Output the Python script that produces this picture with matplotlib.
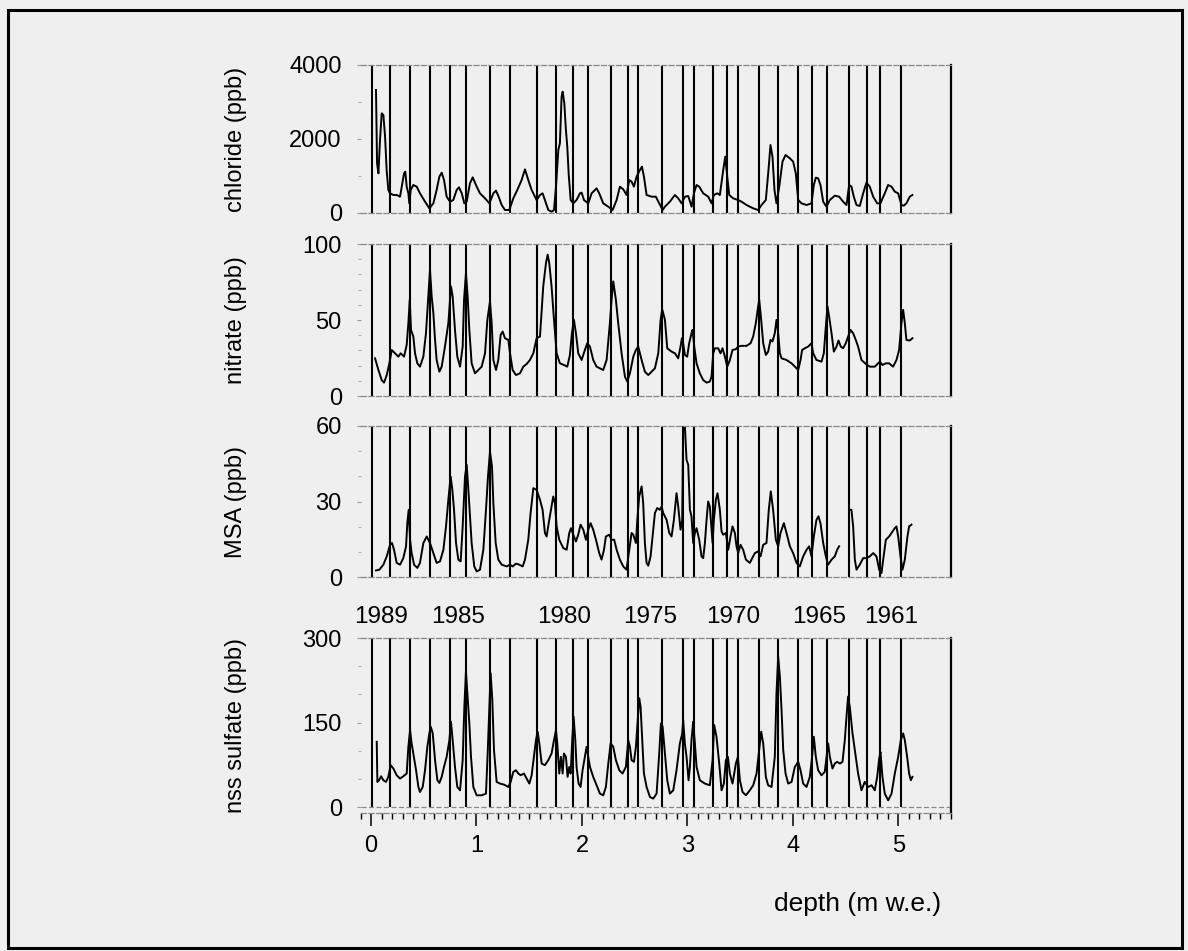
import matplotlib
matplotlib.use('Agg')
import numpy as np
import matplotlib.pyplot as plt
import matplotlib.transforms as mtransforms
from matplotlib.patches import Rectangle
from matplotlib.ticker import MultipleLocator

plt.rcParams['font.family'] = ['Liberation Sans', 'DejaVu Sans']

# profundidade (m w.e.) e concentracoes (ppb)
cl_depth = [0.047, 0.057, 0.070, 0.085, 0.101, 0.117, 0.133, 0.148, 0.164, 0.180,
            0.212, 0.243, 0.275, 0.291, 0.313, 0.325, 0.338, 0.354, 0.363, 0.376,
            0.401, 0.433, 0.464, 0.512, 0.553, 0.591, 0.622, 0.648, 0.670, 0.692,
            0.717, 0.749, 0.780, 0.812, 0.834, 0.860, 0.885, 0.907, 0.938, 0.964,
            1.002, 1.033, 1.081, 1.122, 1.160, 1.185, 1.210, 1.239, 1.270, 1.311,
            1.349, 1.387, 1.428, 1.460, 1.491, 1.523, 1.570, 1.602, 1.627, 1.649,
            1.681, 1.712, 1.735, 1.754, 1.776, 1.791, 1.807, 1.817, 1.833, 1.848,
            1.861, 1.874, 1.893, 1.918, 1.949, 1.981, 1.997, 2.019, 2.060, 2.092,
            2.139, 2.164, 2.202, 2.250, 2.291, 2.329, 2.360, 2.392, 2.423, 2.449,
            2.471, 2.493, 2.518, 2.550, 2.569, 2.588, 2.613, 2.660, 2.701, 2.733,
            2.765, 2.787, 2.834, 2.882, 2.913, 2.945, 2.977, 3.008, 3.040, 3.062,
            3.087, 3.112, 3.150, 3.198, 3.229, 3.251, 3.283, 3.308, 3.340, 3.359,
            3.378, 3.397, 3.434, 3.482, 3.513, 3.561, 3.624, 3.671, 3.703, 3.744,
            3.769, 3.788, 3.807, 3.826, 3.845, 3.871, 3.902, 3.931, 3.972, 4.003,
            4.028, 4.051, 4.082, 4.130, 4.177, 4.199, 4.218, 4.240, 4.262, 4.288,
            4.319, 4.351, 4.398, 4.439, 4.477, 4.509, 4.534, 4.556, 4.578, 4.604,
            4.635, 4.667, 4.698, 4.730, 4.762, 4.800, 4.831, 4.872, 4.904, 4.936,
            4.967, 4.999, 5.030, 5.052, 5.077, 5.109, 5.134]
cl_ppb = [3325, 1342, 1072, 1973, 2694, 2649, 2063, 1162, 622, 532,
          487, 487, 441, 712, 1072, 1117, 712, 532, 261, 622,
          757, 712, 532, 306, 126, 261, 622, 982, 1090, 892,
          441, 306, 351, 622, 694, 532, 261, 306, 802, 964,
          712, 532, 396, 261, 532, 604, 441, 216, 81, 81,
          396, 622, 892, 1180, 892, 622, 351, 487, 532, 351,
          81, 36, 81, 712, 1703, 1883, 3144, 3280, 2964, 2243,
          1793, 1072, 351, 261, 351, 532, 550, 351, 261, 532,
          667, 532, 261, 171, 81, 351, 712, 640, 487, 892,
          847, 712, 982, 1162, 1252, 982, 487, 441, 441, 261,
          81, 171, 306, 487, 396, 261, 441, 459, 171, 532,
          757, 712, 532, 441, 261, 487, 532, 487, 1162, 1523,
          982, 487, 396, 351, 306, 216, 126, 81, 216, 351,
          1162, 1838, 1523, 622, 261, 712, 1388, 1568, 1478, 1388,
          1072, 351, 261, 216, 261, 757, 955, 937, 757, 306,
          171, 351, 469, 441, 306, 216, 757, 712, 441, 216,
          189, 532, 820, 712, 441, 261, 261, 532, 757, 712,
          577, 532, 216, 198, 261, 441, 487]

no3_depth = [0.038, 0.070, 0.101, 0.123, 0.149, 0.174, 0.196, 0.227, 0.259, 0.281,
             0.313, 0.338, 0.354, 0.367, 0.379, 0.401, 0.417, 0.439, 0.464, 0.496,
             0.521, 0.543, 0.559, 0.575, 0.591, 0.607, 0.622, 0.648, 0.670, 0.701,
             0.733, 0.758, 0.774, 0.796, 0.818, 0.844, 0.869, 0.882, 0.900, 0.916,
             0.932, 0.954, 0.986, 1.017, 1.049, 1.081, 1.103, 1.128, 1.144, 1.160,
             1.185, 1.207, 1.229, 1.248, 1.270, 1.302, 1.318, 1.343, 1.374, 1.412,
             1.444, 1.476, 1.507, 1.539, 1.570, 1.602, 1.633, 1.659, 1.675, 1.690,
             1.712, 1.735, 1.760, 1.791, 1.829, 1.861, 1.886, 1.905, 1.924, 1.943,
             1.965, 1.997, 2.028, 2.051, 2.076, 2.107, 2.139, 2.171, 2.202, 2.234,
             2.265, 2.281, 2.297, 2.322, 2.344, 2.376, 2.408, 2.430, 2.455, 2.487,
             2.512, 2.534, 2.566, 2.597, 2.629, 2.660, 2.692, 2.724, 2.746, 2.761,
             2.787, 2.809, 2.850, 2.882, 2.913, 2.935, 2.948, 2.960, 2.976, 2.998,
             3.017, 3.039, 3.049, 3.065, 3.087, 3.118, 3.150, 3.182, 3.213, 3.229,
             3.245, 3.261, 3.292, 3.314, 3.333, 3.356, 3.378, 3.403, 3.428, 3.460,
             3.482, 3.513, 3.561, 3.599, 3.624, 3.649, 3.671, 3.681, 3.697, 3.719,
             3.744, 3.766, 3.788, 3.807, 3.829, 3.845, 3.861, 3.877, 3.893, 3.940,
             3.988, 4.019, 4.051, 4.073, 4.088, 4.114, 4.145, 4.177, 4.193, 4.224,
             4.272, 4.294, 4.313, 4.329, 4.344, 4.367, 4.389, 4.414, 4.433, 4.455,
             4.477, 4.502, 4.524, 4.547, 4.572, 4.597, 4.619, 4.651, 4.692, 4.730,
             4.777, 4.809, 4.825, 4.850, 4.882, 4.913, 4.951, 4.983, 5.008, 5.030,
             5.046, 5.062, 5.077, 5.109, 5.134]
no3_ppb = [24.8, 17.1, 10.5, 8.8, 13.8, 21.5, 30.3, 28.1, 25.9, 28.1,
           25.9, 33.6, 47.9, 63.3, 43.5, 39.1, 28.1, 21.5, 19.3, 25.9,
           41.3, 65.5, 83.1, 65.5, 54.5, 36.9, 23.7, 16.0, 19.3, 32.5,
           47.9, 72.1, 65.5, 43.5, 25.9, 19.3, 32.5, 63.3, 80.9, 65.5,
           43.5, 21.5, 14.9, 17.1, 19.3, 28.1, 50.1, 62.2, 47.9, 23.7,
           17.1, 23.7, 40.2, 42.4, 38.0, 36.9, 28.1, 17.1, 13.8, 14.9,
           19.3, 21.1, 23.7, 28.1, 38.0, 39.1, 72.1, 87.5, 93.0, 87.5,
           72.1, 50.1, 28.1, 21.5, 20.4, 19.3, 27.0, 41.3, 50.1, 41.3,
           28.1, 23.7, 30.3, 34.7, 32.5, 23.7, 19.3, 18.2, 17.1, 23.7,
           47.9, 63.3, 75.4, 63.3, 47.9, 28.1, 12.7, 9.5, 14.9, 25.9,
           30.3, 32.5, 23.7, 16.0, 13.8, 16.0, 18.2, 28.1, 50.1, 57.1,
           50.1, 31.4, 29.2, 28.1, 24.8, 32.5, 38.0, 34.7, 27.0, 25.9,
           34.7, 41.3, 43.5, 32.5, 21.5, 14.9, 10.5, 8.8, 9.5, 12.7,
           28.1, 31.4, 31.4, 28.1, 31.4, 25.9, 19.3, 23.7, 30.3, 30.8,
           32.5, 33.0, 33.0, 34.7, 39.1, 47.9, 58.9, 63.3, 52.3, 34.7,
           27.0, 29.2, 36.9, 35.8, 41.3, 50.1, 41.3, 28.1, 24.8, 23.7,
           21.5, 19.3, 17.1, 23.7, 30.3, 31.4, 32.5, 34.7, 28.1, 23.7,
           22.6, 28.1, 45.7, 58.9, 52.3, 41.3, 29.2, 32.5, 36.5, 32.5,
           31.4, 34.7, 39.1, 43.5, 41.3, 36.9, 32.5, 23.7, 21.1, 19.3,
           19.3, 21.5, 22.6, 20.4, 21.5, 21.5, 19.3, 23.7, 30.3, 47.9,
           56.7, 47.9, 36.9, 36.5, 38.0]

msa_depth = [0.047, 0.079, 0.117, 0.149, 0.180, 0.199, 0.218, 0.243, 0.275, 0.306,
             0.332, 0.344, 0.357, 0.370, 0.385, 0.408, 0.439, 0.464, 0.496, 0.528,
             0.559, 0.591, 0.622, 0.654, 0.686, 0.711, 0.733, 0.755, 0.771, 0.787,
             0.806, 0.828, 0.850, 0.869, 0.891, 0.907, 0.923, 0.938, 0.954, 0.979,
             1.002, 1.033, 1.065, 1.090, 1.109, 1.128, 1.147, 1.160, 1.182, 1.207,
             1.239, 1.286, 1.318, 1.343, 1.374, 1.406, 1.438, 1.460, 1.491, 1.513,
             1.539, 1.570, 1.602, 1.627, 1.649, 1.665, 1.690, 1.712, 1.728, 1.744,
             1.760, 1.785, 1.823, 1.855, 1.880, 1.896, 1.918, 1.943, 1.965, 1.987,
             2.013, 2.038, 2.060, 2.082, 2.107, 2.133, 2.164, 2.186, 2.209, 2.227,
             2.259, 2.281, 2.306, 2.329, 2.360, 2.392, 2.423, 2.449, 2.471, 2.487,
             2.512, 2.525, 2.543, 2.566, 2.581, 2.597, 2.613, 2.629, 2.651, 2.670,
             2.692, 2.714, 2.739, 2.755, 2.771, 2.803, 2.828, 2.850, 2.872, 2.897,
             2.913, 2.935, 2.951, 2.960, 2.976, 2.992, 3.008, 3.024, 3.039, 3.055,
             3.071, 3.087, 3.112, 3.134, 3.150, 3.166, 3.182, 3.197, 3.213, 3.239,
             3.251, 3.270, 3.286, 3.308, 3.324, 3.340, 3.365, 3.387, 3.409, 3.428,
             3.450, 3.466, 3.482, 3.504, 3.529, 3.555, 3.592, 3.640, 3.671, 3.694,
             3.719, 3.750, 3.772, 3.791, 3.813, 3.839, 3.861, 3.883, 3.915, 3.940,
             3.972, 4.003, 4.035, 4.066, 4.098, 4.130, 4.155, 4.177, 4.199, 4.224,
             4.243, 4.262, 4.288, 4.313, 4.335, 4.367, 4.398, 4.420, 4.439, 4.490,
             4.534, 4.556, 4.572, 4.588, 4.604, 4.635, 4.667, 4.698, 4.730, 4.762,
             4.793, 4.819, 4.841, 4.857, 4.882, 4.913, 4.945, 4.967, 4.983, 4.999,
             5.021, 5.040, 5.062, 5.087, 5.103, 5.125]
msa_ppb = [2.6, 2.9, 4.9, 8.2, 12.8, 13.5, 10.8, 5.6, 4.9, 7.5,
           12.2, 21.4, 26.7, 14.8, 9.5, 4.9, 3.6, 5.6, 13.5, 16.1,
           13.5, 9.5, 5.6, 6.2, 10.8, 20.1, 30.7, 39.9, 34.6, 26.7,
           13.5, 6.9, 6.2, 20.1, 39.9, 44.6, 34.6, 24.1, 13.5, 4.2,
           2.2, 2.9, 10.8, 26.7, 39.9, 49.8, 43.9, 29.3, 13.5, 6.9,
           4.9, 4.2, 4.9, 4.2, 5.3, 4.9, 4.2, 6.9, 14.8, 25.4,
           35.3, 34.6, 30.7, 26.7, 17.5, 16.1, 22.7, 28.0, 32.0, 29.3,
           20.1, 14.8, 11.5, 10.8, 17.5, 19.4, 16.8, 14.1, 16.8, 20.8,
           18.8, 14.8, 18.8, 21.4, 18.8, 14.8, 9.5, 6.9, 10.8, 16.1,
           16.8, 14.8, 14.8, 10.8, 6.9, 4.2, 2.9, 10.8, 17.5, 16.8,
           13.5, 22.7, 32.0, 36.0, 29.3, 13.5, 5.6, 4.5, 8.2, 16.1,
           25.4, 27.4, 26.7, 28.0, 25.4, 22.7, 17.5, 16.1, 22.7, 33.3,
           28.0, 18.8, 22.7, 60.0, 60.0, 46.5, 44.6, 26.7, 24.1, 13.5,
           17.5, 19.4, 14.8, 8.2, 7.5, 13.5, 22.7, 30.0, 28.0, 13.5,
           22.7, 30.7, 33.3, 26.7, 18.1, 16.8, 17.5, 10.8, 16.1, 20.1,
           17.5, 12.2, 9.5, 12.8, 10.8, 6.9, 5.6, 9.5, 10.2, 8.2,
           12.8, 13.5, 26.7, 34.0, 26.7, 14.8, 12.2, 17.5, 21.4, 17.5,
           12.2, 9.5, 5.6, 4.2, 8.2, 10.8, 12.2, 8.2, 16.1, 22.7,
           24.1, 21.4, 13.5, 8.2, 4.9, 6.9, 8.2, 10.8, 12.2, np.nan,
           26.7, 26.7, 20.1, 6.9, 2.9, 4.9, 7.5, 7.5, 8.2, 9.5,
           8.2, 2.9, 1.6, 6.9, 14.8, 16.1, 18.1, 19.4, 20.1, 16.1,
           8.2, 2.9, 6.9, 16.1, 20.1, 20.8]

so4_depth = [0.054, 0.060, 0.076, 0.095, 0.117, 0.142, 0.164, 0.186, 0.212, 0.243,
             0.275, 0.306, 0.338, 0.354, 0.370, 0.385, 0.401, 0.427, 0.449, 0.464,
             0.490, 0.512, 0.534, 0.553, 0.566, 0.585, 0.607, 0.629, 0.648, 0.670,
             0.692, 0.717, 0.743, 0.758, 0.774, 0.796, 0.818, 0.844, 0.869, 0.885,
             0.900, 0.916, 0.932, 0.948, 0.970, 1.002, 1.049, 1.090, 1.106, 1.122,
             1.134, 1.150, 1.166, 1.191, 1.223, 1.261, 1.302, 1.324, 1.349, 1.374,
             1.397, 1.419, 1.450, 1.476, 1.501, 1.523, 1.545, 1.564, 1.580, 1.596,
             1.618, 1.649, 1.681, 1.712, 1.735, 1.754, 1.766, 1.785, 1.801, 1.817,
             1.829, 1.848, 1.864, 1.880, 1.893, 1.908, 1.921, 1.937, 1.949, 1.968,
             1.987, 2.006, 2.028, 2.044, 2.060, 2.076, 2.107, 2.139, 2.171, 2.202,
             2.227, 2.250, 2.272, 2.297, 2.322, 2.354, 2.385, 2.417, 2.439, 2.455,
             2.471, 2.493, 2.512, 2.534, 2.543, 2.556, 2.569, 2.588, 2.613, 2.645,
             2.676, 2.708, 2.733, 2.749, 2.765, 2.787, 2.809, 2.834, 2.866, 2.897,
             2.929, 2.951, 2.960, 2.976, 2.992, 3.011, 3.024, 3.039, 3.055, 3.071,
             3.087, 3.118, 3.166, 3.213, 3.239, 3.254, 3.276, 3.302, 3.324, 3.346,
             3.365, 3.384, 3.403, 3.428, 3.460, 3.479, 3.498, 3.523, 3.555, 3.592,
             3.624, 3.656, 3.681, 3.700, 3.719, 3.744, 3.766, 3.798, 3.829, 3.845,
             3.861, 3.877, 3.893, 3.909, 3.931, 3.956, 3.988, 4.019, 4.051, 4.073,
             4.098, 4.130, 4.161, 4.183, 4.199, 4.218, 4.240, 4.272, 4.303, 4.335,
             4.351, 4.376, 4.398, 4.420, 4.446, 4.471, 4.493, 4.509, 4.524, 4.540,
             4.566, 4.588, 4.619, 4.651, 4.682, 4.714, 4.746, 4.777, 4.800, 4.819,
             4.831, 4.850, 4.872, 4.904, 4.936, 4.967, 4.999, 5.024, 5.046, 5.062,
             5.084, 5.103, 5.119, 5.134]
so4_ppb = [115.8, 44.6, 47.5, 54.6, 47.5, 44.6, 53.5, 74.3, 68.3, 56.4,
           50.5, 54.6, 59.4, 106.9, 136.6, 112.9, 95.0, 65.3, 35.6, 26.7,
           35.6, 65.3, 106.9, 130.7, 142.6, 130.7, 83.2, 47.5, 42.8, 53.5,
           71.3, 89.1, 118.8, 151.5, 118.8, 71.3, 35.6, 29.7, 83.2, 178.2,
           240.6, 196.0, 148.5, 89.1, 35.6, 20.8, 20.8, 23.8, 95.0, 178.2,
           237.6, 190.1, 101.0, 44.6, 41.6, 39.8, 35.6, 44.6, 62.4, 65.3,
           59.4, 56.4, 59.4, 50.5, 41.6, 56.4, 89.1, 118.8, 133.7, 112.9,
           77.2, 74.3, 83.2, 95.0, 118.8, 136.6, 112.9, 59.4, 89.1, 59.4,
           95.0, 89.1, 53.5, 71.3, 59.4, 118.8, 160.4, 118.8, 71.3, 41.6,
           35.6, 65.3, 89.1, 106.9, 89.1, 71.3, 53.5, 38.6, 23.8, 20.8,
           35.6, 77.2, 112.9, 106.9, 83.2, 65.3, 59.4, 71.3, 118.8, 106.9,
           83.2, 80.2, 106.9, 166.3, 193.1, 178.2, 130.7, 59.4, 35.6, 17.8,
           14.9, 23.8, 95.0, 148.5, 142.6, 95.0, 47.5, 23.8, 29.7, 65.3,
           112.9, 130.7, 154.4, 112.9, 89.1, 47.5, 71.3, 118.8, 151.5, 112.9,
           71.3, 47.5, 41.6, 38.6, 83.2, 145.5, 124.7, 77.2, 29.7, 41.6,
           83.2, 89.1, 59.4, 41.6, 77.2, 89.1, 47.5, 26.7, 20.8, 29.7,
           38.6, 59.4, 101.0, 133.7, 112.9, 53.5, 38.6, 35.6, 89.1, 202.0,
           267.3, 231.7, 172.3, 101.0, 59.4, 41.6, 44.6, 71.3, 80.2, 65.3,
           41.6, 35.6, 53.5, 89.1, 124.7, 89.1, 65.3, 56.4, 62.4, 112.9,
           89.1, 68.3, 77.2, 80.2, 77.2, 80.2, 118.8, 160.4, 196.0, 178.2,
           130.7, 101.0, 59.4, 29.7, 44.6, 35.6, 38.6, 29.7, 53.5, 86.1,
           98.0, 53.5, 23.8, 11.9, 23.8, 59.4, 89.1, 118.8, 130.7, 118.8,
           89.1, 59.4, 47.5, 53.5]

# limites anuais (linhas verticais) e anos rotulados
year_lines = [0.007, 0.18, 0.37, 0.556, 0.749, 0.90, 1.128, 1.318, 1.571, 1.754,
              1.912, 2.06, 2.28, 2.44, 2.53, 2.755, 2.955, 3.06, 3.24, 3.38,
              3.48, 3.68, 3.86, 4.045, 4.18, 4.32, 4.53, 4.70, 4.83, 5.03]
first_year = 1989
labeled_years = [1989, 1985, 1980, 1975, 1970, 1965, 1961]

panels = [
    ('chloride (ppb)', cl_depth, cl_ppb, (0, 4000), 2000, 1000, (65, 213)),
    ('nitrate (ppb)', no3_depth, no3_ppb, (0, 100), 50, 10, (244, 396)),
    ('MSA (ppb)', msa_depth, msa_ppb, (0, 60), 30, 10, (426, 577)),
    ('nss sulfate (ppb)', so4_depth, so4_ppb, (-10.6, 300), 150, 50, (638, 813)),
]

bg = '#efefef'
W, H = 1188, 951
fig = plt.figure(figsize=(W / 100, H / 100), dpi=100, facecolor=bg)
x0, x1 = 360.5, 951.0
fs = 17
dash = (0, (4, 2))

axes = []
for i, (label, d, v, ylim, major, minor, (top, bot)) in enumerate(panels):
    ax = fig.add_axes([x0 / W, 1 - bot / H, (x1 - x0) / W, (bot - top) / H])
    ax.set_facecolor('none')
    ax.plot(d, v, color='black', lw=1.4)
    ax.vlines(year_lines, 0, ylim[1], color='black', lw=1.5)
    ax.set_xlim(-0.1, 5.5)
    ax.set_ylim(*ylim)
    ax.set_yticks([0, major, 2 * major])
    ax.yaxis.set_minor_locator(MultipleLocator(minor))
    ax.tick_params(axis='y', which='major', direction='out', length=3, width=0.8,
                   color='#999999', pad=10.5, labelsize=fs)
    ax.tick_params(axis='y', which='minor', direction='out', length=2, width=0.8,
                   color='#aaaaaa')
    ax.spines['left'].set_visible(False)
    for s in ('top', 'bottom'):
        ax.spines[s].set_linestyle(dash)
        ax.spines[s].set_color('#888888')
        ax.spines[s].set_linewidth(0.9)
    ax.spines['right'].set_color('black')
    ax.spines['right'].set_linewidth(1.6)
    ax.set_ylabel(label, fontsize=fs)
    ax.yaxis.set_label_coords(-0.192, 0.5)
    if i < 3:
        ax.tick_params(axis='x', which='both', bottom=False, labelbottom=False)
    axes.append(ax)

ax = axes[-1]
ax.axhline(0, color='#888888', lw=0.9, ls=dash)
ax.xaxis.set_major_locator(MultipleLocator(1))
ax.xaxis.set_minor_locator(MultipleLocator(0.1))
ax.tick_params(axis='x', which='major', direction='out', length=9, width=1.1,
               color='black', pad=7, labelsize=fs)
ax.tick_params(axis='x', which='minor', direction='out', length=4.5, width=1.0,
               color='black')

# rotulos dos anos no meio de cada intervalo anual
trans = mtransforms.blended_transform_factory(ax.transData, ax.transAxes)
for yr in labeled_years:
    k = first_year - yr
    mid = (year_lines[k] + year_lines[k + 1]) / 2
    ax.text(mid, 1.12, str(yr), transform=trans, ha='center', va='center',
            fontsize=17.5)

fig.text(858 / W, 1 - 904 / H, 'depth (m w.e.)', ha='center', va='center',
         fontsize=19)

fig.patches.append(Rectangle((8 / W, 3 / H), 1174 / W, 938 / H,
                             transform=fig.transFigure, fill=False,
                             lw=2.2, ec='black'))

fig.savefig('out.png', dpi=100, facecolor=bg)
